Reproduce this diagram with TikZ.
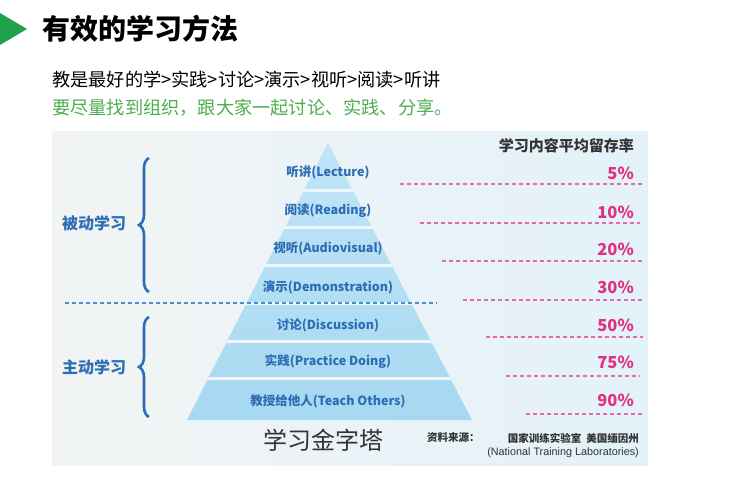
\documentclass[tikz,border=0pt]{standalone}
\usepackage{fontspec}
\setmainfont{Noto Sans CJK SC}
\newfontfamily\latinreg{Liberation Sans}
\usetikzlibrary{decorations.pathreplacing}
\definecolor{tgreen}{HTML}{1FA24B}
\definecolor{sgreen}{HTML}{4DAE50}
\definecolor{pblue}{HTML}{2C6DB4}
\definecolor{pink}{HTML}{E2307F}
\definecolor{pinkl}{HTML}{E46AA8}
\definecolor{dblue}{HTML}{4A8FC9}
\definecolor{dgray}{HTML}{333333}
\definecolor{panelL}{HTML}{F2F4F4}
\definecolor{panelR}{HTML}{E3F2F9}
\definecolor{pyrT}{HTML}{C2E5F7}
\definecolor{pyrB}{HTML}{A6D8F1}
\definecolor{gapc}{HTML}{EEF7FB}
\begin{document}
\begin{tikzpicture}[x=1pt,y=-1pt,
  lbl/.style={font=\fontsize{12.5}{14}\selectfont\bfseries, text=pblue, inner sep=0pt},
  pct/.style={font=\fontsize{16.5}{18}\selectfont\bfseries, text=pink, anchor=east, inner sep=0pt},
  side/.style={font=\fontsize{16}{18}\selectfont\bfseries, text=pblue, anchor=west, inner sep=0pt},
  pdash/.style={draw=pinkl, line width=1.2pt, dash pattern=on 4pt off 3pt},
  gapline/.style={draw=gapc, line width=3pt},
  brc/.style={draw=pblue, line width=2.6pt, decorate, decoration={brace, amplitude=10pt, aspect=0.5}},
]
\useasboundingbox (0,0) rectangle (736,487);
\fill[white] (0,0) rectangle (736,487);
% title
\fill[tgreen] (0,13) -- (27,29) -- (0,45) -- cycle;
\node[anchor=west, inner sep=0pt, font=\fontsize{28}{32}\selectfont\bfseries] (title) at (42,29) {有效的学习方法};
\node[anchor=west, inner sep=0pt, font=\fontsize{18.2}{21}\selectfont] (line1) at (52,80) {教是最好的学>实践>讨论>演示>视听>阅读>听讲};
\node[anchor=west, inner sep=0pt, font=\fontsize{18.2}{21}\selectfont, text=sgreen] (line2) at (52,108) {要尽量找到组织，跟大家一起讨论、实践、分享。};
% panel
\shade[left color=panelL, right color=panelR] (52,131) rectangle (648,465);
% pyramid
\shade[top color=pyrT, bottom color=pyrB] (328,143) -- (472,420) -- (187,420) -- cycle;
\begin{scope}
  \clip (328,143) -- (472,420) -- (187,420) -- cycle;
  \foreach \yy in {190,227,265,303,341,378} {\draw[gapline] (150,\yy) -- (500,\yy);}
\end{scope}
% blue dashed divider
\coordinate (dvL) at (65,303);
\coordinate (dvR) at (437,303);
\draw[dblue, line width=1.2pt, dash pattern=on 4pt off 3pt] (dvL) -- (dvR);
% layer labels
\node[lbl] (l1) at (328,172) {听讲(Lecture)};
\node[lbl] (l2) at (328,211) {阅读(Reading)};
\node[lbl] (l3) at (328,248) {视听(Audiovisual)};
\node[lbl] (l4) at (328,287) {演示(Demonstration)};
\node[lbl] (l5) at (328,325) {讨论(Discussion)};
\node[lbl] (l6) at (328,362) {实践(Practice Doing)};
\node[lbl] (l7) at (328,401) {教授给他人(Teach Others)};
% header
\node[anchor=east, inner sep=0pt, font=\fontsize{15}{17}\selectfont\bfseries, text=dgray] (hdr) at (634,146) {学习内容平均留存率};
% percentages
\node[pct] (p1) at (634,173) {5\%};
\node[pct] (p2) at (634,212) {10\%};
\node[pct] (p3) at (634,249) {20\%};
\node[pct] (p4) at (634,287) {30\%};
\node[pct] (p5) at (634,325) {50\%};
\node[pct] (p6) at (634,362) {75\%};
\node[pct] (p7) at (634,400) {90\%};
% pink dashed lines
\coordinate (a1) at (400,184); \coordinate (b1) at (643,184);
\coordinate (a2) at (420,223); \coordinate (b2) at (640,223);
\coordinate (a3) at (442,261); \coordinate (b3) at (643,261);
\coordinate (a4) at (463,300); \coordinate (b4) at (643,300);
\coordinate (a5) at (486,337); \coordinate (b5) at (643,337);
\coordinate (a6) at (506,376); \coordinate (b6) at (640,376);
\coordinate (a7) at (526,414); \coordinate (b7) at (643,414);
\foreach \i in {1,...,7} {\draw[pdash] (a\i) -- (b\i);}
% braces
\coordinate (br1b) at (149,292); \coordinate (br1t) at (149,158);
\coordinate (br2b) at (149,417); \coordinate (br2t) at (149,317);
\draw[brc] (br1b) -- (br1t);
\draw[brc] (br2b) -- (br2t);
\node[side] (passive) at (62,223) {被动学习};
\node[side] (active) at (62,367) {主动学习};
% bottom
\node[anchor=west, inner sep=0pt, font=\fontsize{24}{26}\selectfont, text=dgray] (pname) at (263,440) {学习金字塔};
\node[anchor=west, inner sep=0pt, font=\fontsize{10.5}{12}\selectfont\bfseries, text=dgray] (src) at (427,438) {资料来源：};
\node[anchor=east, inner sep=0pt, font=\fontsize{10.5}{12}\selectfont\bfseries, text=dgray] (src1) at (639,438) {国家训练实验室\ \ 美国缅因州};
\node[anchor=east, inner sep=0pt, font=\latinreg\fontsize{10.8}{12}\selectfont, text=dgray] (src2) at (639,453) {(National Training Laboratories)};
\end{tikzpicture}
\end{document}
